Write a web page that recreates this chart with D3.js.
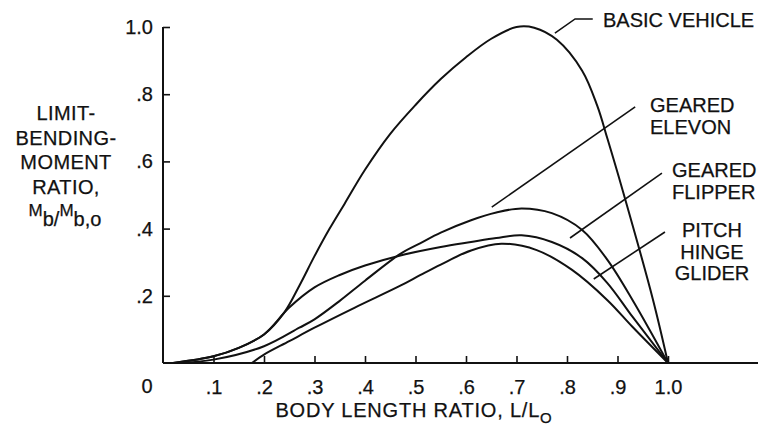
<!DOCTYPE html>
<html>
<head>
<meta charset="utf-8">
<script src="https://cdn.jsdelivr.net/npm/d3@7"></script>
<style>
  body { margin: 0; background: #fff; }
  svg { display: block; }
  text { font-family: "Liberation Sans", Arial, sans-serif; fill: #111; stroke: #111; stroke-width: 0.25px; }
  .curve, .leader, .axis-line { fill: none; stroke: #111; }
</style>
</head>
<body>
<div class="container"></div>
<script>
// values: [body length ratio, moment ratio]
const basicVehicle = [[0.02,0],[0.1,0.02],[0.15,0.045],[0.2,0.085],[0.24,0.15],[0.27,0.23],[0.3,0.318],
    [0.33,0.4],[0.36,0.475],[0.4,0.575],[0.45,0.682],[0.5,0.768],[0.55,0.845],[0.6,0.91],[0.65,0.965],
    [0.7,1.0],[0.735,0.998],[0.78,0.962],[0.83,0.87],[0.86,0.765],[0.88,0.668],[0.91,0.515],[0.97,0.19],[1.0,0]];
const gearedFlipper = [[0.02,0],[0.1,0.02],[0.15,0.045],[0.2,0.085],[0.25,0.165],[0.3,0.225],[0.35,0.262],
    [0.4,0.29],[0.47,0.32],[0.55,0.345],[0.61,0.36],[0.66,0.372],[0.71,0.38],[0.77,0.36],[0.83,0.312],
    [0.88,0.238],[0.93,0.137],[1.0,0]];
const gearedElevon = [[0.03,0],[0.1,0.01],[0.2,0.05],[0.27,0.105],[0.3,0.13],[0.35,0.185],[0.4,0.245],
    [0.47,0.325],[0.51,0.357],[0.55,0.388],[0.61,0.425],[0.66,0.448],[0.71,0.46],[0.77,0.446],
    [0.83,0.396],[0.88,0.307],[0.93,0.187],[1.0,0]];
const pitchHingeGlider = [[0.176,0],[0.2,0.025],[0.25,0.065],[0.3,0.105],[0.38,0.165],[0.47,0.23],
    [0.51,0.262],[0.55,0.293],[0.61,0.335],[0.67,0.355],[0.74,0.336],[0.81,0.277],[0.88,0.187],
    [0.93,0.107],[1.0,0]];

const xTicks = [0.1,0.2,0.3,0.4,0.5,0.6,0.7,0.8,0.9,1.0],
    xTickLabels = [".1",".2",".3",".4",".5",".6",".7",".8",".9","1.0"],
    yTicks = [0.2,0.4,0.6,0.8,1.0],
    yTickLabels = [".2",".4",".6",".8","1.0"];

// leader lines from each curve to its label, in data units
const leaders = [
    [[0.776,0.982],[0.816,1.024],[0.851,1.024]],
    [[0.651,0.464],[0.935,0.762]],
    [[0.806,0.372],[0.988,0.565]],
    [[0.853,0.25],[0.994,0.39]]
];

const width = 761, height = 429;

const svg = d3.select('.container')
    .append('svg')
    .attr('width', width)
    .attr('height', height);

const x = d3.scaleLinear().domain([0, 1]).range([163, 668]),
    y = d3.scaleLinear().domain([0, 1]).range([363, 27]);

// axes
svg.append('line').attr('class', 'axis-line')
    .attr('x1', x(0)).attr('x2', 758).attr('y1', y(0)).attr('y2', y(0))
    .attr('stroke-width', 2);
svg.append('line').attr('class', 'axis-line')
    .attr('x1', x(0)).attr('x2', x(0)).attr('y1', y(0)).attr('y2', y(1))
    .attr('stroke-width', 2);

const xAxis = svg.append('g')
    .attr('transform', `translate(0,${y(0)})`)
    .call(d3.axisBottom(x).tickValues(xTicks).tickSize(-7).tickPadding(17)
        .tickFormat((d, i) => xTickLabels[i]));
xAxis.select('.domain').remove();

const yAxis = svg.append('g')
    .attr('transform', `translate(${x(0)},0)`)
    .call(d3.axisLeft(y).tickValues(yTicks).tickSize(-7).tickPadding(10)
        .tickFormat((d, i) => yTickLabels[i]));
yAxis.select('.domain').remove();

svg.selectAll('.tick line').attr('stroke', '#111').attr('stroke-width', 1.6);
svg.selectAll('.tick text')
    .style('font-family', '"Liberation Sans", Arial, sans-serif')
    .style('font-size', '20px')
    .attr('fill', '#111');

svg.append('text')
    .attr('x', x(0) - 16).attr('y', 393)
    .attr('text-anchor', 'middle')
    .style('font-size', '20px')
    .text('0');

// curves
const line = d3.line()
    .x(d => x(d[0]))
    .y(d => y(d[1]))
    .curve(d3.curveCatmullRom.alpha(0.5));

svg.selectAll('.curve')
    .data([basicVehicle, gearedFlipper, gearedElevon, pitchHingeGlider])
    .enter()
    .append('path')
    .attr('class', 'curve')
    .attr('stroke-width', 2)
    .attr('d', line);

svg.selectAll('.leader')
    .data(leaders)
    .enter()
    .append('path')
    .attr('class', 'leader')
    .attr('stroke-width', 1.6)
    .attr('d', d3.line().x(d => x(d[0])).y(d => y(d[1])));

// curve labels
const labelBlock = (lines, px, py, anchor) => {
    const t = svg.append('text')
        .attr('text-anchor', anchor)
        .style('font-size', '20px');
    lines.forEach((s, i) => {
        t.append('tspan').attr('x', px).attr('y', py + i * 21.5).text(s);
    });
};
labelBlock(['BASIC VEHICLE'], 603, 27, 'start');
labelBlock(['GEARED', 'ELEVON'], 650, 112, 'start');
labelBlock(['GEARED', 'FLIPPER'], 672, 177, 'start');
labelBlock(['PITCH', 'HINGE', 'GLIDER'], 712, 237, 'middle');

// y axis title
const yTitle = svg.append('text')
    .attr('text-anchor', 'middle')
    .style('font-size', '20px')
    .style('letter-spacing', '0.4px');
['LIMIT-', 'BENDING-', 'MOMENT', 'RATIO,'].forEach((s, i) => {
    yTitle.append('tspan').attr('x', 66).attr('y', 120 + i * 24.7).text(s);
});
const mb = svg.append('text')
    .attr('x', 65).attr('y', 216)
    .attr('text-anchor', 'middle')
    .style('font-size', '20px');
mb.append('tspan').style('font-size', '17px').text('M');
mb.append('tspan').attr('dy', 10).text('b/');
mb.append('tspan').attr('dy', -10).style('font-size', '17px').text('M');
mb.append('tspan').attr('dy', 10).text('b,o');

// x axis title
const xTitle = svg.append('text')
    .attr('x', 414).attr('y', 417)
    .attr('text-anchor', 'middle')
    .style('font-size', '20px')
    .style('letter-spacing', '0.8px');
xTitle.append('tspan').text('BODY LENGTH RATIO, L/L');
xTitle.append('tspan').attr('dy', 6).style('font-size', '15px').text('O');
</script>
</body>
</html>
